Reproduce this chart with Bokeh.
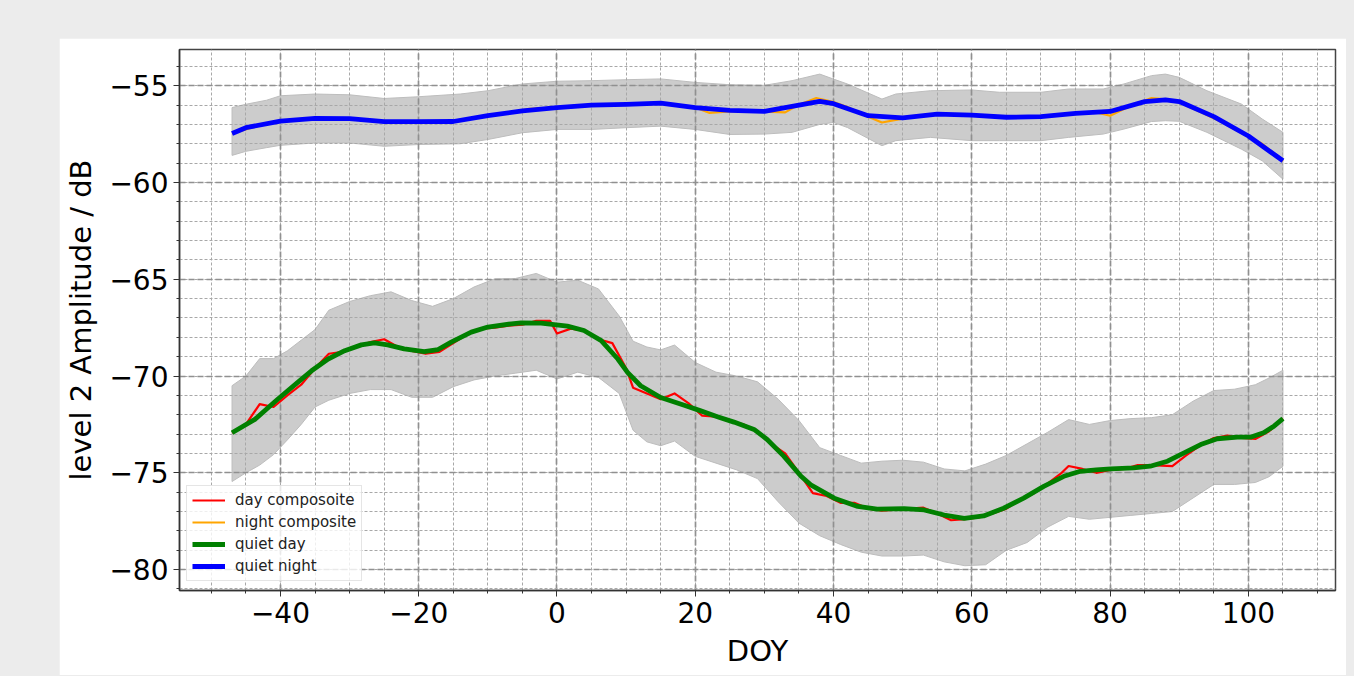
from bokeh.plotting import figure
from bokeh.models import Range1d, SingleIntervalTicker, Legend, LegendItem, CustomJSTickFormatter
from bokeh.layouts import column
from bokeh.embed import file_html
from bokeh.resources import INLINE

# ---- night: composite, quiet-night curve and spread band ----
night_band_doy = [-47, -45, -42, -40, -35, -30, -25, -20, -14, -10,
                  -5, 0, 5, 10, 15, 20, 25, 30, 34, 38,
                  40, 42, 47, 49, 54, 60, 64, 70, 74, 79,
                  82, 86, 88, 90, 94, 99, 102, 105]
night_upper = [-56.13, -55.96, -55.75, -55.52, -55.43, -55.47, -55.66, -55.57, -55.43, -55.26,
               -54.91, -54.77, -54.74, -54.69, -54.65, -54.83, -54.95, -54.98, -54.74, -54.40,
               -54.66, -54.91, -55.69, -55.43, -55.26, -55.22, -55.34, -55.34, -55.17, -55.17,
               -54.91, -54.48, -54.40, -54.57, -55.26, -55.95, -56.72, -57.41]
night_lower = [-58.60, -58.39, -58.20, -58.08, -57.96, -57.96, -58.13, -58.04, -58.00, -57.78,
               -57.43, -57.26, -57.26, -57.17, -57.09, -57.26, -57.52, -57.50, -57.41, -57.00,
               -56.90, -57.16, -58.10, -57.84, -57.67, -57.84, -57.84, -57.84, -57.67, -57.50,
               -57.24, -56.85, -56.81, -56.84, -57.41, -58.28, -58.88, -59.83]

night_comp_doy = [-47, -43, -39, -35, -31, -27, -23, -19, -15, -11, -7, -4, -1, 2, 5, 8, 11, 14,
                  17, 20, 22, 25, 28, 31, 33, 35, 37.5, 40, 42, 45, 47, 50, 52, 55, 58, 61, 64,
                  67, 70, 73, 76, 78, 80, 82, 84, 86, 88, 90, 93, 96, 99, 102, 105]
night_comp_db = [-57.47, -57.05, -56.80, -56.68, -56.72, -56.80, -56.88, -56.85, -56.86, -56.60,
                 -56.40, -56.20, -56.15, -56.07, -55.98, -55.97, -55.96, -55.88, -56.00, -56.12,
                 -56.40, -56.33, -56.30, -56.35, -56.38, -55.98, -55.64, -55.85, -56.10, -56.60,
                 -56.90, -56.70, -56.55, -56.45, -56.50, -56.55, -56.62, -56.66, -56.60, -56.50,
                 -56.40, -56.38, -56.55, -56.20, -55.90, -55.64, -55.70, -55.85, -56.35, -56.85,
                 -57.45, -58.00, -58.90]

quiet_night_doy = [-47, -45, -40, -35, -30, -25, -20, -15, -10, -5, 0, 5, 10, 15, 20, 25, 30,
                   35, 38, 40, 45, 50, 55, 60, 65, 70, 75, 80, 85, 88, 90, 95, 100, 105]
quiet_night_db = [-57.47, -57.17, -56.83, -56.69, -56.70, -56.86, -56.86, -56.85, -56.55, -56.30,
                  -56.13, -56.00, -55.96, -55.90, -56.13, -56.27, -56.33, -56.00, -55.81, -55.93,
                  -56.55, -56.66, -56.47, -56.52, -56.63, -56.60, -56.43, -56.33, -55.82, -55.73,
                  -55.82, -56.60, -57.60, -58.88]

# ---- day: composite, quiet-day curve and spread band ----
day_band_doy = [-47, -45, -43, -41, -39, -37, -35, -33, -30, -27, -24, -21, -18, -15, -12, -9,
                -6, -3, 0, 3, 6, 9, 11, 13, 15, 17, 20, 23, 26, 29, 32, 35, 38, 41, 44, 47,
                50, 53, 56, 59, 62, 65, 68, 71, 74, 77, 80, 83, 86, 89, 92, 95, 98, 101, 103, 105]
day_upper = [-70.50, -70.00, -69.10, -69.10, -68.70, -68.15, -67.60, -66.60, -66.15, -65.85,
             -65.65, -66.10, -66.40, -66.00, -65.40, -64.98, -64.96, -64.70, -65.15, -65.05,
             -65.50, -66.90, -68.20, -68.50, -68.65, -68.40, -69.30, -69.80, -70.00, -70.30,
             -71.20, -72.30, -73.70, -74.10, -74.50, -74.40, -74.35, -74.45, -74.80, -74.90,
             -74.55, -74.10, -73.50, -72.90, -72.25, -72.50, -72.30, -72.20, -72.15, -72.00,
             -71.30, -70.75, -70.68, -70.45, -70.10, -69.70]
day_lower = [-75.45, -75.00, -74.60, -74.06, -73.30, -72.50, -71.60, -71.25, -70.90, -70.70,
             -70.70, -71.10, -71.10, -70.55, -70.20, -70.00, -69.85, -69.70, -70.15, -69.80,
             -70.07, -70.90, -72.80, -73.40, -73.60, -73.36, -74.15, -74.50, -74.85, -75.30,
             -76.50, -77.60, -78.25, -78.70, -79.10, -79.30, -79.30, -79.25, -79.60, -79.80,
             -79.75, -79.00, -78.60, -77.80, -77.25, -77.40, -77.30, -77.20, -77.10, -77.00,
             -76.30, -75.60, -75.60, -75.50, -75.20, -74.66]

day_comp_doy = [-47, -45, -43, -41, -39, -37, -35, -33, -31, -29, -27, -25, -23, -21, -19, -17,
                -15, -13, -11, -9, -7, -5, -3, -1, 0, 2, 4, 6, 8, 10, 11, 13, 15, 17, 19, 21,
                23, 25, 27, 29, 31, 33, 35, 37, 39, 41, 43, 45, 47, 49, 51, 53, 55, 57, 59, 61,
                63, 65, 67, 69, 71, 73, 74, 76, 78, 80, 82, 84, 86, 89, 91, 93, 95, 97, 99, 101,
                103, 105]
day_comp_db = [-72.93, -72.50, -71.45, -71.60, -71.00, -70.45, -69.60, -68.85, -68.75, -68.50,
               -68.25, -68.10, -68.50, -68.70, -68.85, -68.75, -68.30, -67.85, -67.55, -67.50,
               -67.40, -67.35, -67.15, -67.15, -67.80, -67.55, -67.65, -68.10, -68.30, -69.60,
               -70.60, -70.90, -71.20, -70.90, -71.40, -72.05, -72.10, -72.35, -72.50, -72.85,
               -73.50, -74.00, -75.00, -76.05, -76.20, -76.55, -76.55, -76.85, -76.95, -76.90,
               -76.85, -76.80, -77.10, -77.45, -77.40, -77.30, -77.10, -76.85, -76.40, -76.05,
               -75.55, -75.00, -74.65, -74.80, -75.00, -74.85, -74.80, -74.60, -74.60, -74.65,
               -74.10, -73.60, -73.20, -73.07, -73.20, -73.25, -72.85, -72.20]

quiet_day_doy = [-47.0, -43.7, -40.4, -37.5, -35.5, -33.1, -30.7, -28.3, -26.4, -24.5, -22.1,
                 -19.2, -17.2, -15.3, -12.4, -10.0, -6.6, -5.2, -2.3, 1.5, 3.9, 6.4, 8.8, 10.2,
                 12.1, 15.0, 18.4, 20.8, 23.2, 25.6, 28.5, 30.4, 32.8, 35.3, 36.7, 40.1, 43.5,
                 46.3, 50.2, 53.1, 56.0, 58.9, 61.7, 64.6, 67.5, 70.4, 73.3, 75.7, 78.0, 80.1,
                 83.4, 85.8, 88.3, 90.7, 93.1, 95.5, 98.4, 100.3, 102.2, 103.7, 105.0]
quiet_day_db = [-72.93, -72.24, -71.20, -70.33, -69.73, -69.12, -68.69, -68.39, -68.29, -68.39,
                -68.60, -68.74, -68.63, -68.25, -67.73, -67.47, -67.30, -67.25, -67.27, -67.42,
                -67.65, -68.17, -69.12, -69.81, -70.50, -71.11, -71.51, -71.80, -72.10, -72.38,
                -72.76, -73.28, -74.14, -75.18, -75.62, -76.31, -76.74, -76.88, -76.85, -76.92,
                -77.18, -77.35, -77.23, -76.83, -76.31, -75.70, -75.18, -74.92, -74.85, -74.80,
                -74.75, -74.66, -74.40, -73.97, -73.54, -73.24, -73.16, -73.16, -72.93, -72.59,
                -72.20]

FONT = "DejaVu Sans"

p = figure(frame_width=1156, frame_height=540,
           x_range=Range1d(-54.6, 112.6), y_range=Range1d(-81.08, -53.13),
           output_backend="svg", toolbar_location=None,
           min_border_left=120, min_border_right=11, min_border_top=11, min_border_bottom=86,
           background_fill_color="white", border_fill_color="white")
p.margin = (38, 0, 0, 59)

# spread bands (drawn below the grid)
p.patch(day_band_doy + day_band_doy[::-1], day_upper + day_lower[::-1],
        fill_color="#cccccc", line_color="#bdbdbd", line_width=1, level="image")
p.patch(night_band_doy + night_band_doy[::-1], night_upper + night_lower[::-1],
        fill_color="#cccccc", line_color="#bdbdbd", line_width=1, level="image")

r_day = p.line(day_comp_doy, day_comp_db, line_color="red", line_width=2.2, line_join="round")
r_night = p.line(night_comp_doy, night_comp_db, line_color="orange", line_width=2.2, line_join="round")
r_qday = p.line(quiet_day_doy, quiet_day_db, line_color="green", line_width=4.8, line_join="round")
r_qnight = p.line(quiet_night_doy, quiet_night_db, line_color="blue", line_width=4.8, line_join="round")

# axes, ticks and grid
xt = SingleIntervalTicker(interval=20, num_minor_ticks=4)
yt = SingleIntervalTicker(interval=5, num_minor_ticks=5)
p.xaxis.ticker = xt
p.yaxis.ticker = yt
p.xgrid.ticker = xt
p.ygrid.ticker = yt

minus_fmt = CustomJSTickFormatter(code="return tick < 0 ? '\u2212' + Math.abs(tick) : String(tick);")
p.xaxis.formatter = minus_fmt
p.yaxis.formatter = minus_fmt

for g in (p.xgrid, p.ygrid):
    g.grid_line_color = "#909090"
    g.grid_line_width = 1.7
    g.grid_line_dash = "6 3"
    g.minor_grid_line_color = "#a8a8a8"
    g.minor_grid_line_width = 1
    g.minor_grid_line_dash = "3 2"

p.axis.axis_line_color = "#333333"
p.axis.axis_line_width = 1.5
p.axis.major_tick_line_color = "#333333"
p.axis.minor_tick_line_color = "#333333"
p.axis.major_tick_out = 6
p.axis.major_tick_in = 0
p.axis.minor_tick_out = 3
p.axis.minor_tick_in = 0
p.axis.major_label_text_font = FONT
p.axis.major_label_text_font_size = "28px"
p.axis.major_label_text_color = "black"
p.axis.major_label_standoff = 5
p.axis.axis_label_text_font = FONT
p.axis.axis_label_text_font_size = "29px"
p.axis.axis_label_text_font_style = "normal"
p.axis.axis_label_text_color = "black"
p.axis.axis_label_standoff = 8
p.xaxis.axis_label = "DOY"
p.yaxis.axis_label = "level 2 Amplitude / dB"

p.outline_line_color = "#444444"
p.outline_line_width = 1.5

legend = Legend(items=[
    LegendItem(label="day composoite", renderers=[r_day]),
    LegendItem(label="night composite", renderers=[r_night]),
    LegendItem(label="quiet day", renderers=[r_qday]),
    LegendItem(label="quiet night", renderers=[r_qnight]),
], location=(7, 9))
legend.label_text_font = FONT
legend.label_text_font_size = "15px"
legend.label_text_color = "#222222"
legend.glyph_width = 33
legend.glyph_height = 18
legend.label_height = 18
legend.label_standoff = 10
legend.spacing = 4
legend.padding = 5
legend.margin = 0
legend.border_line_color = "#cccccc"
legend.border_line_width = 1
legend.background_fill_alpha = 0.8
p.add_layout(legend)

page = column(p, width=1354, height=676, styles={"background-color": "#ececec"})

open("out.html", "w").write(file_html(page, INLINE))
